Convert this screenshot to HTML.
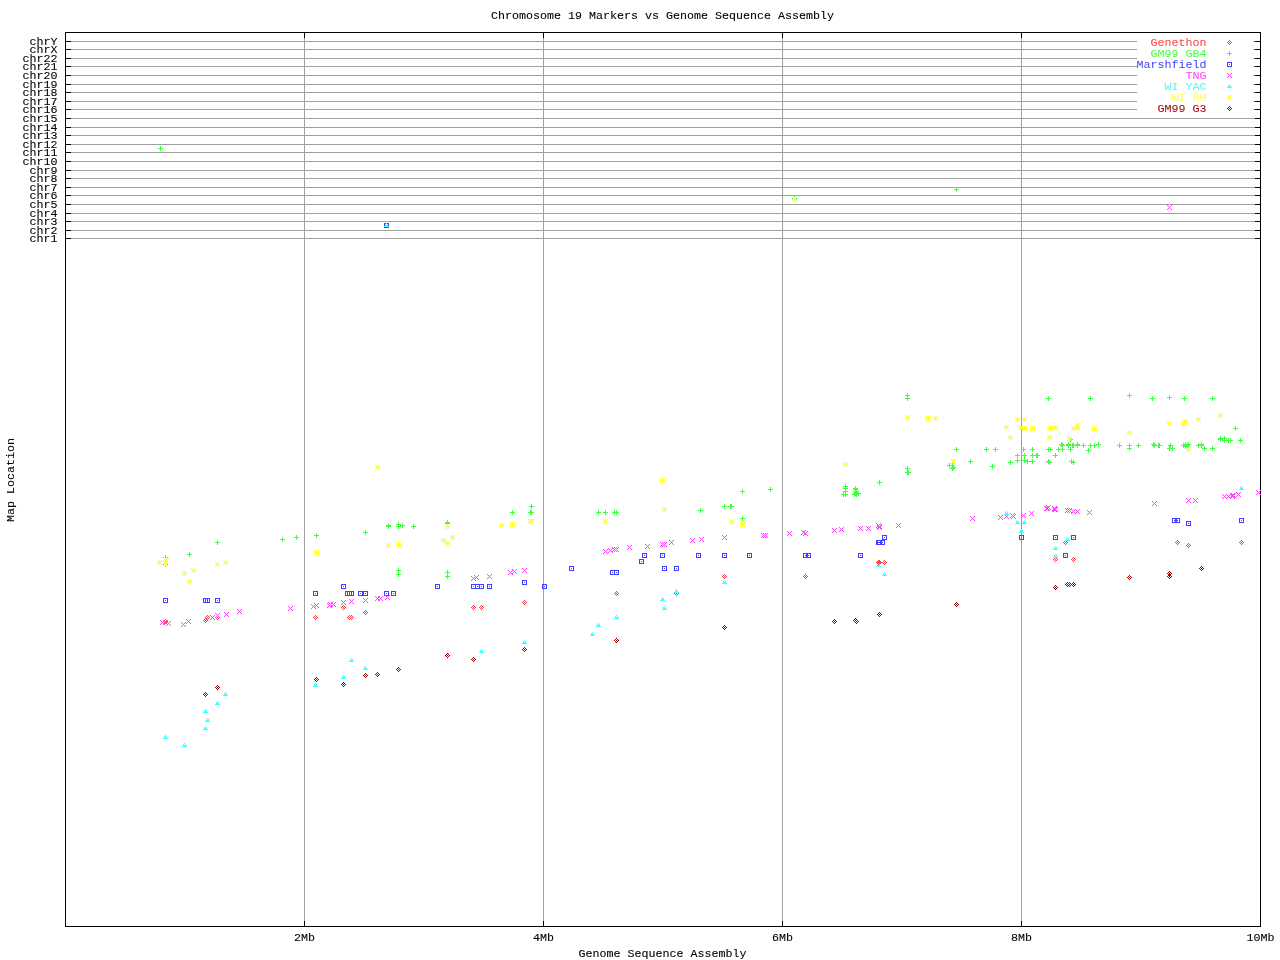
<!DOCTYPE html>
<html lang="en"><head><meta charset="utf-8"><title>Chromosome 19 Markers vs Genome Sequence Assembly</title>
<style>html,body{margin:0;padding:0;background:#fff}body{width:1280px;height:960px;overflow:hidden;position:relative}svg{position:absolute;left:0;top:0;display:block}text{font-family:"Liberation Mono",monospace;font-size:10px;letter-spacing:0px;fill:#000;white-space:pre;stroke-width:0.08px}.g{fill:#a0a0a0}.k{fill:#000}i{position:absolute;width:1px;height:1px;background:currentColor;display:block}
.dia i,i.dia{box-shadow:0 -2px,-1px -1px,1px -1px,-2px 0,2px 0,-1px 1px,1px 1px,0 2px}
.plus i,i.plus{box-shadow:0 -2px,0 -1px,-2px 0,-1px 0,1px 0,2px 0,0 1px,0 2px}
.box i,i.box{box-shadow:-2px -2px,-1px -2px,0 -2px,1px -2px,2px -2px,-2px 2px,-1px 2px,0 2px,1px 2px,2px 2px,-2px -1px,-2px 0,-2px 1px,2px -1px,2px 0,2px 1px}
.x i,i.x{box-shadow:-2px -2px,2px -2px,-1px -1px,1px -1px,-1px 1px,1px 1px,-2px 2px,2px 2px}
.tri i,i.tri{box-shadow:0 -2px,-1px -1px,1px -1px,-1px 0,1px 0,-2px 1px,-1px 1px,0 1px,1px 1px,2px 1px}
.star i,i.star{box-shadow:-2px -2px,0 -2px,2px -2px,-1px -1px,0 -1px,1px -1px,-2px 0,-1px 0,1px 0,2px 0,-1px 1px,0 1px,1px 1px,-2px 2px,0 2px,2px 2px}
.gen{fill:#ff4040;color:#ff4040}
.gb4{fill:#40ff40;color:#40ff40}
.mar{fill:#4040ff;color:#4040ff}
.tng{fill:#ff40ff;color:#ff40ff}
.yac{fill:#40ffff;color:#40ffff}
.rh{fill:#ffff40;color:#ffff40}
.g3{fill:#a00000;color:#a00000}
</style></head><body>
<svg width="1280" height="960" viewBox="0 0 1280 960" shape-rendering="crispEdges">
<rect width="1280" height="960" fill="#fff"/>
<g class="g"><rect x="66" y="41" width="1194" height="1"/><rect x="66" y="49" width="1194" height="1"/><rect x="66" y="58" width="1194" height="1"/><rect x="66" y="66" width="1194" height="1"/><rect x="66" y="75" width="1194" height="1"/><rect x="66" y="84" width="1194" height="1"/><rect x="66" y="92" width="1194" height="1"/><rect x="66" y="101" width="1194" height="1"/><rect x="66" y="109" width="1194" height="1"/><rect x="66" y="118" width="1194" height="1"/><rect x="66" y="127" width="1194" height="1"/><rect x="66" y="135" width="1194" height="1"/><rect x="66" y="144" width="1194" height="1"/><rect x="66" y="152" width="1194" height="1"/><rect x="66" y="161" width="1194" height="1"/><rect x="66" y="170" width="1194" height="1"/><rect x="66" y="178" width="1194" height="1"/><rect x="66" y="187" width="1194" height="1"/><rect x="66" y="195" width="1194" height="1"/><rect x="66" y="204" width="1194" height="1"/><rect x="66" y="213" width="1194" height="1"/><rect x="66" y="221" width="1194" height="1"/><rect x="66" y="230" width="1194" height="1"/><rect x="66" y="238" width="1194" height="1"/><rect x="304" y="33" width="1" height="893"/><rect x="543" y="33" width="1" height="893"/><rect x="782" y="33" width="1" height="893"/><rect x="1021" y="33" width="1" height="893"/></g>
<rect x="1137" y="36" width="116" height="78" fill="#fff"/>
<g class="k"><rect x="65" y="32" width="1196" height="1"/><rect x="65" y="926" width="1196" height="1"/><rect x="65" y="32" width="1" height="895"/><rect x="1260" y="32" width="1" height="895"/><rect x="66" y="41" width="5" height="1"/><rect x="1255" y="41" width="5" height="1"/><rect x="66" y="49" width="5" height="1"/><rect x="1255" y="49" width="5" height="1"/><rect x="66" y="58" width="5" height="1"/><rect x="1255" y="58" width="5" height="1"/><rect x="66" y="66" width="5" height="1"/><rect x="1255" y="66" width="5" height="1"/><rect x="66" y="75" width="5" height="1"/><rect x="1255" y="75" width="5" height="1"/><rect x="66" y="84" width="5" height="1"/><rect x="1255" y="84" width="5" height="1"/><rect x="66" y="92" width="5" height="1"/><rect x="1255" y="92" width="5" height="1"/><rect x="66" y="101" width="5" height="1"/><rect x="1255" y="101" width="5" height="1"/><rect x="66" y="109" width="5" height="1"/><rect x="1255" y="109" width="5" height="1"/><rect x="66" y="118" width="5" height="1"/><rect x="1255" y="118" width="5" height="1"/><rect x="66" y="127" width="5" height="1"/><rect x="1255" y="127" width="5" height="1"/><rect x="66" y="135" width="5" height="1"/><rect x="1255" y="135" width="5" height="1"/><rect x="66" y="144" width="5" height="1"/><rect x="1255" y="144" width="5" height="1"/><rect x="66" y="152" width="5" height="1"/><rect x="1255" y="152" width="5" height="1"/><rect x="66" y="161" width="5" height="1"/><rect x="1255" y="161" width="5" height="1"/><rect x="66" y="170" width="5" height="1"/><rect x="1255" y="170" width="5" height="1"/><rect x="66" y="178" width="5" height="1"/><rect x="1255" y="178" width="5" height="1"/><rect x="66" y="187" width="5" height="1"/><rect x="1255" y="187" width="5" height="1"/><rect x="66" y="195" width="5" height="1"/><rect x="1255" y="195" width="5" height="1"/><rect x="66" y="204" width="5" height="1"/><rect x="1255" y="204" width="5" height="1"/><rect x="66" y="213" width="5" height="1"/><rect x="1255" y="213" width="5" height="1"/><rect x="66" y="221" width="5" height="1"/><rect x="1255" y="221" width="5" height="1"/><rect x="66" y="230" width="5" height="1"/><rect x="1255" y="230" width="5" height="1"/><rect x="66" y="238" width="5" height="1"/><rect x="1255" y="238" width="5" height="1"/><rect x="304" y="33" width="1" height="5"/><rect x="304" y="921" width="1" height="5"/><rect x="543" y="33" width="1" height="5"/><rect x="543" y="921" width="1" height="5"/><rect x="782" y="33" width="1" height="5"/><rect x="782" y="921" width="1" height="5"/><rect x="1021" y="33" width="1" height="5"/><rect x="1021" y="921" width="1" height="5"/></g>
<g shape-rendering="auto"><text stroke="#000" transform="translate(662.5 19) scale(1.16667 1)" text-anchor="middle">Chromosome 19 Markers vs Genome Sequence Assembly</text><text stroke="#000" transform="translate(662.5 957) scale(1.16667 1)" text-anchor="middle">Genome Sequence Assembly</text><text stroke="#000" transform="translate(14 480) rotate(-90) scale(1.16667 1)" text-anchor="middle">Map Location</text><text stroke="#000" transform="translate(57.6 45) scale(1.16667 1)" text-anchor="end">chrY</text><text stroke="#000" transform="translate(57.6 53) scale(1.16667 1)" text-anchor="end">chrX</text><text stroke="#000" transform="translate(57.6 62) scale(1.16667 1)" text-anchor="end">chr22</text><text stroke="#000" transform="translate(57.6 70) scale(1.16667 1)" text-anchor="end">chr21</text><text stroke="#000" transform="translate(57.6 79) scale(1.16667 1)" text-anchor="end">chr20</text><text stroke="#000" transform="translate(57.6 88) scale(1.16667 1)" text-anchor="end">chr19</text><text stroke="#000" transform="translate(57.6 96) scale(1.16667 1)" text-anchor="end">chr18</text><text stroke="#000" transform="translate(57.6 105) scale(1.16667 1)" text-anchor="end">chr17</text><text stroke="#000" transform="translate(57.6 113) scale(1.16667 1)" text-anchor="end">chr16</text><text stroke="#000" transform="translate(57.6 122) scale(1.16667 1)" text-anchor="end">chr15</text><text stroke="#000" transform="translate(57.6 131) scale(1.16667 1)" text-anchor="end">chr14</text><text stroke="#000" transform="translate(57.6 139) scale(1.16667 1)" text-anchor="end">chr13</text><text stroke="#000" transform="translate(57.6 148) scale(1.16667 1)" text-anchor="end">chr12</text><text stroke="#000" transform="translate(57.6 156) scale(1.16667 1)" text-anchor="end">chr11</text><text stroke="#000" transform="translate(57.6 165) scale(1.16667 1)" text-anchor="end">chr10</text><text stroke="#000" transform="translate(57.6 174) scale(1.16667 1)" text-anchor="end">chr9</text><text stroke="#000" transform="translate(57.6 182) scale(1.16667 1)" text-anchor="end">chr8</text><text stroke="#000" transform="translate(57.6 191) scale(1.16667 1)" text-anchor="end">chr7</text><text stroke="#000" transform="translate(57.6 199) scale(1.16667 1)" text-anchor="end">chr6</text><text stroke="#000" transform="translate(57.6 208) scale(1.16667 1)" text-anchor="end">chr5</text><text stroke="#000" transform="translate(57.6 217) scale(1.16667 1)" text-anchor="end">chr4</text><text stroke="#000" transform="translate(57.6 225) scale(1.16667 1)" text-anchor="end">chr3</text><text stroke="#000" transform="translate(57.6 234) scale(1.16667 1)" text-anchor="end">chr2</text><text stroke="#000" transform="translate(57.6 242) scale(1.16667 1)" text-anchor="end">chr1</text><text stroke="#000" transform="translate(304.5 941) scale(1.16667 1)" text-anchor="middle">2Mb</text><text stroke="#000" transform="translate(543.5 941) scale(1.16667 1)" text-anchor="middle">4Mb</text><text stroke="#000" transform="translate(782.5 941) scale(1.16667 1)" text-anchor="middle">6Mb</text><text stroke="#000" transform="translate(1021.5 941) scale(1.16667 1)" text-anchor="middle">8Mb</text><text stroke="#000" transform="translate(1260.5 941) scale(1.16667 1)" text-anchor="middle">10Mb</text><text class="gen" transform="translate(1206.5 46) scale(1.16667 1)" text-anchor="end">Genethon</text><text class="gb4" transform="translate(1206.5 57) scale(1.16667 1)" text-anchor="end">GM99 GB4</text><text class="mar" transform="translate(1206.5 68) scale(1.16667 1)" text-anchor="end">Marshfield</text><text class="tng" transform="translate(1206.5 79) scale(1.16667 1)" text-anchor="end">TNG</text><text class="yac" transform="translate(1206.5 90) scale(1.16667 1)" text-anchor="end">WI YAC</text><text class="rh" transform="translate(1206.5 101) scale(1.16667 1)" text-anchor="end">WI RH</text><text class="g3" transform="translate(1206.5 112) scale(1.16667 1)" text-anchor="end">GM99 G3</text></g>
</svg>
<div class="gen dia"><i style="left:165px;top:621px"></i><i style="left:207px;top:617px"></i><i style="left:205px;top:620px"></i><i style="left:217px;top:617px"></i><i style="left:315px;top:617px"></i><i style="left:343px;top:607px"></i><i style="left:349px;top:617px"></i><i style="left:351px;top:617px"></i><i style="left:365px;top:612px"></i><i style="left:473px;top:607px"></i><i style="left:481px;top:607px"></i><i style="left:524px;top:602px"></i><i style="left:616px;top:593px"></i><i style="left:724px;top:576px"></i><i style="left:676px;top:593px"></i><i style="left:805px;top:576px"></i><i style="left:884px;top:562px"></i><i style="left:878px;top:562px"></i><i style="left:879px;top:562px"></i><i style="left:1065px;top:542px"></i><i style="left:1055px;top:559px"></i><i style="left:1073px;top:559px"></i><i style="left:1177px;top:542px"></i><i style="left:1188px;top:545px"></i><i style="left:1241px;top:542px"></i></div>
<div class="gb4 plus"><i style="left:160px;top:148px"></i><i style="left:794px;top:198px"></i><i style="left:956px;top:189px"></i><i style="left:217px;top:542px"></i><i style="left:189px;top:554px"></i><i style="left:165px;top:557px"></i><i style="left:165px;top:564px"></i><i style="left:282px;top:539px"></i><i style="left:296px;top:537px"></i><i style="left:316px;top:535px"></i><i style="left:365px;top:532px"></i><i style="left:388px;top:525px"></i><i style="left:388px;top:526px"></i><i style="left:398px;top:524px"></i><i style="left:398px;top:526px"></i><i style="left:402px;top:525px"></i><i style="left:413px;top:526px"></i><i style="left:447px;top:522px"></i><i style="left:447px;top:523px"></i><i style="left:398px;top:570px"></i><i style="left:398px;top:574px"></i><i style="left:447px;top:572px"></i><i style="left:447px;top:576px"></i><i style="left:512px;top:512px"></i><i style="left:531px;top:506px"></i><i style="left:530px;top:512px"></i><i style="left:531px;top:512px"></i><i style="left:598px;top:512px"></i><i style="left:605px;top:512px"></i><i style="left:614px;top:512px"></i><i style="left:616px;top:512px"></i><i style="left:700px;top:510px"></i><i style="left:724px;top:506px"></i><i style="left:730px;top:506px"></i><i style="left:731px;top:506px"></i><i style="left:742px;top:491px"></i><i style="left:742px;top:518px"></i><i style="left:770px;top:489px"></i><i style="left:845px;top:486px"></i><i style="left:845px;top:488px"></i><i style="left:845px;top:491px"></i><i style="left:845px;top:494px"></i><i style="left:843px;top:494px"></i><i style="left:855px;top:488px"></i><i style="left:855px;top:489px"></i><i style="left:855px;top:491px"></i><i style="left:855px;top:493px"></i><i style="left:854px;top:494px"></i><i style="left:856px;top:494px"></i><i style="left:858px;top:493px"></i><i style="left:856px;top:492px"></i><i style="left:879px;top:482px"></i><i style="left:907px;top:468px"></i><i style="left:907px;top:472px"></i><i style="left:908px;top:472px"></i><i style="left:907px;top:395px"></i><i style="left:907px;top:398px"></i><i style="left:956px;top:449px"></i><i style="left:986px;top:449px"></i><i style="left:995px;top:449px"></i><i style="left:970px;top:461px"></i><i style="left:992px;top:466px"></i><i style="left:949px;top:465px"></i><i style="left:952px;top:465px"></i><i style="left:953px;top:467px"></i><i style="left:952px;top:468px"></i><i style="left:1048px;top:398px"></i><i style="left:1023px;top:449px"></i><i style="left:1032px;top:449px"></i><i style="left:1048px;top:449px"></i><i style="left:1010px;top:462px"></i><i style="left:1017px;top:455px"></i><i style="left:1017px;top:460px"></i><i style="left:1024px;top:455px"></i><i style="left:1024px;top:460px"></i><i style="left:1027px;top:461px"></i><i style="left:1032px;top:455px"></i><i style="left:1032px;top:461px"></i><i style="left:1036px;top:455px"></i><i style="left:1037px;top:455px"></i><i style="left:1090px;top:398px"></i><i style="left:1129px;top:395px"></i><i style="left:1152px;top:398px"></i><i style="left:1061px;top:444px"></i><i style="left:1062px;top:445px"></i><i style="left:1068px;top:444px"></i><i style="left:1068px;top:445px"></i><i style="left:1072px;top:445px"></i><i style="left:1073px;top:445px"></i><i style="left:1077px;top:444px"></i><i style="left:1077px;top:445px"></i><i style="left:1083px;top:445px"></i><i style="left:1090px;top:445px"></i><i style="left:1094px;top:445px"></i><i style="left:1098px;top:444px"></i><i style="left:1070px;top:439px"></i><i style="left:1119px;top:445px"></i><i style="left:1129px;top:445px"></i><i style="left:1129px;top:448px"></i><i style="left:1138px;top:445px"></i><i style="left:1153px;top:444px"></i><i style="left:1154px;top:445px"></i><i style="left:1158px;top:445px"></i><i style="left:1159px;top:445px"></i><i style="left:1050px;top:449px"></i><i style="left:1058px;top:449px"></i><i style="left:1062px;top:449px"></i><i style="left:1070px;top:449px"></i><i style="left:1088px;top:450px"></i><i style="left:1055px;top:455px"></i><i style="left:1048px;top:461px"></i><i style="left:1049px;top:462px"></i><i style="left:1071px;top:461px"></i><i style="left:1073px;top:462px"></i><i style="left:1169px;top:397px"></i><i style="left:1184px;top:398px"></i><i style="left:1212px;top:398px"></i><i style="left:1235px;top:428px"></i><i style="left:1240px;top:440px"></i><i style="left:1220px;top:438px"></i><i style="left:1220px;top:439px"></i><i style="left:1224px;top:438px"></i><i style="left:1224px;top:440px"></i><i style="left:1228px;top:440px"></i><i style="left:1230px;top:440px"></i><i style="left:1170px;top:445px"></i><i style="left:1169px;top:448px"></i><i style="left:1172px;top:448px"></i><i style="left:1183px;top:445px"></i><i style="left:1185px;top:444px"></i><i style="left:1188px;top:444px"></i><i style="left:1185px;top:446px"></i><i style="left:1187px;top:445px"></i><i style="left:1198px;top:445px"></i><i style="left:1201px;top:444px"></i><i style="left:1201px;top:445px"></i><i style="left:1204px;top:448px"></i><i style="left:1212px;top:448px"></i></div>
<div class="mar box"><i style="left:386px;top:225px"></i><i style="left:165px;top:600px"></i><i style="left:205px;top:600px"></i><i style="left:207px;top:600px"></i><i style="left:217px;top:600px"></i><i style="left:343px;top:586px"></i><i style="left:315px;top:593px"></i><i style="left:347px;top:593px"></i><i style="left:349px;top:593px"></i><i style="left:351px;top:593px"></i><i style="left:360px;top:593px"></i><i style="left:365px;top:593px"></i><i style="left:386px;top:593px"></i><i style="left:393px;top:593px"></i><i style="left:437px;top:586px"></i><i style="left:473px;top:586px"></i><i style="left:477px;top:586px"></i><i style="left:481px;top:586px"></i><i style="left:489px;top:586px"></i><i style="left:524px;top:582px"></i><i style="left:544px;top:586px"></i><i style="left:571px;top:568px"></i><i style="left:612px;top:572px"></i><i style="left:616px;top:572px"></i><i style="left:644px;top:555px"></i><i style="left:641px;top:561px"></i><i style="left:662px;top:555px"></i><i style="left:664px;top:568px"></i><i style="left:676px;top:568px"></i><i style="left:698px;top:555px"></i><i style="left:724px;top:555px"></i><i style="left:749px;top:555px"></i><i style="left:805px;top:555px"></i><i style="left:808px;top:555px"></i><i style="left:860px;top:555px"></i><i style="left:884px;top:537px"></i><i style="left:878px;top:542px"></i><i style="left:879px;top:542px"></i><i style="left:882px;top:542px"></i><i style="left:1021px;top:537px"></i><i style="left:1055px;top:537px"></i><i style="left:1073px;top:537px"></i><i style="left:1065px;top:555px"></i><i style="left:1174px;top:520px"></i><i style="left:1177px;top:520px"></i><i style="left:1188px;top:523px"></i><i style="left:1241px;top:520px"></i></div>
<div class="tng x"><i style="left:1169px;top:207px"></i><i style="left:162px;top:622px"></i><i style="left:165px;top:622px"></i><i style="left:168px;top:623px"></i><i style="left:183px;top:624px"></i><i style="left:188px;top:621px"></i><i style="left:212px;top:617px"></i><i style="left:217px;top:615px"></i><i style="left:226px;top:614px"></i><i style="left:239px;top:611px"></i><i style="left:290px;top:608px"></i><i style="left:313px;top:606px"></i><i style="left:316px;top:605px"></i><i style="left:329px;top:605px"></i><i style="left:330px;top:604px"></i><i style="left:333px;top:604px"></i><i style="left:343px;top:602px"></i><i style="left:351px;top:601px"></i><i style="left:365px;top:600px"></i><i style="left:377px;top:598px"></i><i style="left:380px;top:598px"></i><i style="left:387px;top:597px"></i><i style="left:473px;top:578px"></i><i style="left:476px;top:577px"></i><i style="left:489px;top:576px"></i><i style="left:510px;top:572px"></i><i style="left:514px;top:571px"></i><i style="left:524px;top:570px"></i><i style="left:605px;top:551px"></i><i style="left:610px;top:550px"></i><i style="left:614px;top:549px"></i><i style="left:616px;top:549px"></i><i style="left:629px;top:547px"></i><i style="left:647px;top:546px"></i><i style="left:662px;top:544px"></i><i style="left:664px;top:544px"></i><i style="left:671px;top:542px"></i><i style="left:692px;top:540px"></i><i style="left:701px;top:539px"></i><i style="left:724px;top:537px"></i><i style="left:763px;top:535px"></i><i style="left:765px;top:535px"></i><i style="left:789px;top:533px"></i><i style="left:803px;top:532px"></i><i style="left:805px;top:533px"></i><i style="left:834px;top:530px"></i><i style="left:841px;top:529px"></i><i style="left:860px;top:528px"></i><i style="left:868px;top:528px"></i><i style="left:878px;top:525px"></i><i style="left:879px;top:527px"></i><i style="left:879px;top:526px"></i><i style="left:898px;top:525px"></i><i style="left:972px;top:518px"></i><i style="left:1000px;top:517px"></i><i style="left:1006px;top:516px"></i><i style="left:1012px;top:515px"></i><i style="left:1013px;top:516px"></i><i style="left:1023px;top:515px"></i><i style="left:1031px;top:513px"></i><i style="left:1046px;top:508px"></i><i style="left:1047px;top:508px"></i><i style="left:1048px;top:507px"></i><i style="left:1054px;top:508px"></i><i style="left:1054px;top:509px"></i><i style="left:1055px;top:509px"></i><i style="left:1067px;top:510px"></i><i style="left:1069px;top:510px"></i><i style="left:1073px;top:511px"></i><i style="left:1077px;top:511px"></i><i style="left:1089px;top:512px"></i><i style="left:1154px;top:503px"></i><i style="left:1188px;top:500px"></i><i style="left:1195px;top:500px"></i><i style="left:1224px;top:496px"></i><i style="left:1228px;top:496px"></i><i style="left:1232px;top:495px"></i><i style="left:1233px;top:495px"></i><i style="left:1232px;top:496px"></i><i style="left:1238px;top:494px"></i><i style="left:1258px;top:492px"></i></div>
<div class="yac tri"><i style="left:386px;top:225px"></i><i style="left:165px;top:737px"></i><i style="left:184px;top:745px"></i><i style="left:205px;top:728px"></i><i style="left:207px;top:720px"></i><i style="left:205px;top:711px"></i><i style="left:217px;top:703px"></i><i style="left:225px;top:694px"></i><i style="left:315px;top:685px"></i><i style="left:343px;top:677px"></i><i style="left:351px;top:660px"></i><i style="left:365px;top:668px"></i><i style="left:481px;top:651px"></i><i style="left:524px;top:642px"></i><i style="left:592px;top:634px"></i><i style="left:598px;top:625px"></i><i style="left:616px;top:617px"></i><i style="left:724px;top:582px"></i><i style="left:676px;top:591px"></i><i style="left:662px;top:599px"></i><i style="left:664px;top:608px"></i><i style="left:878px;top:565px"></i><i style="left:884px;top:574px"></i><i style="left:1006px;top:513px"></i><i style="left:1017px;top:522px"></i><i style="left:1024px;top:522px"></i><i style="left:1021px;top:531px"></i><i style="left:1067px;top:539px"></i><i style="left:1055px;top:548px"></i><i style="left:1055px;top:556px"></i><i style="left:1241px;top:488px"></i></div>
<div class="rh star"><i style="left:794px;top:199px"></i><i style="left:159px;top:562px"></i><i style="left:166px;top:559px"></i><i style="left:165px;top:563px"></i><i style="left:217px;top:564px"></i><i style="left:225px;top:562px"></i><i style="left:193px;top:570px"></i><i style="left:184px;top:573px"></i><i style="left:189px;top:581px"></i><i style="left:316px;top:552px"></i><i style="left:377px;top:467px"></i><i style="left:388px;top:545px"></i><i style="left:398px;top:544px"></i><i style="left:447px;top:526px"></i><i style="left:452px;top:537px"></i><i style="left:443px;top:540px"></i><i style="left:447px;top:543px"></i><i style="left:501px;top:525px"></i><i style="left:512px;top:524px"></i><i style="left:530px;top:521px"></i><i style="left:531px;top:521px"></i><i style="left:605px;top:521px"></i><i style="left:662px;top:480px"></i><i style="left:664px;top:509px"></i><i style="left:731px;top:521px"></i><i style="left:742px;top:524px"></i><i style="left:845px;top:464px"></i><i style="left:907px;top:417px"></i><i style="left:928px;top:418px"></i><i style="left:935px;top:418px"></i><i style="left:953px;top:461px"></i><i style="left:1017px;top:419px"></i><i style="left:1024px;top:419px"></i><i style="left:1006px;top:427px"></i><i style="left:1020px;top:427px"></i><i style="left:1024px;top:428px"></i><i style="left:1032px;top:428px"></i><i style="left:1010px;top:437px"></i><i style="left:1050px;top:428px"></i><i style="left:1055px;top:427px"></i><i style="left:1049px;top:437px"></i><i style="left:1073px;top:428px"></i><i style="left:1077px;top:425px"></i><i style="left:1077px;top:428px"></i><i style="left:1094px;top:428px"></i><i style="left:1069px;top:438px"></i><i style="left:1129px;top:432px"></i><i style="left:1169px;top:423px"></i><i style="left:1183px;top:424px"></i><i style="left:1184px;top:422px"></i><i style="left:1185px;top:421px"></i><i style="left:1198px;top:419px"></i><i style="left:1220px;top:415px"></i><i style="left:1188px;top:449px"></i></div>
<div class="g3 dia"><i style="left:217px;top:687px"></i><i style="left:205px;top:694px"></i><i style="left:316px;top:679px"></i><i style="left:343px;top:684px"></i><i style="left:365px;top:675px"></i><i style="left:377px;top:674px"></i><i style="left:398px;top:669px"></i><i style="left:447px;top:655px"></i><i style="left:473px;top:659px"></i><i style="left:524px;top:649px"></i><i style="left:616px;top:640px"></i><i style="left:724px;top:627px"></i><i style="left:834px;top:621px"></i><i style="left:855px;top:620px"></i><i style="left:856px;top:621px"></i><i style="left:879px;top:614px"></i><i style="left:956px;top:604px"></i><i style="left:1055px;top:587px"></i><i style="left:1067px;top:584px"></i><i style="left:1069px;top:584px"></i><i style="left:1073px;top:584px"></i><i style="left:1129px;top:577px"></i><i style="left:1169px;top:573px"></i><i style="left:1169px;top:576px"></i><i style="left:1201px;top:568px"></i></div>
<div class="legend"><i class="gen dia" style="left:1229px;top:42px"></i><i class="gb4 plus" style="left:1229px;top:53px"></i><i class="mar box" style="left:1229px;top:64px"></i><i class="tng x" style="left:1229px;top:75px"></i><i class="yac tri" style="left:1229px;top:86px"></i><i class="rh star" style="left:1229px;top:97px"></i><i class="g3 dia" style="left:1229px;top:108px"></i></div>
</body></html>
